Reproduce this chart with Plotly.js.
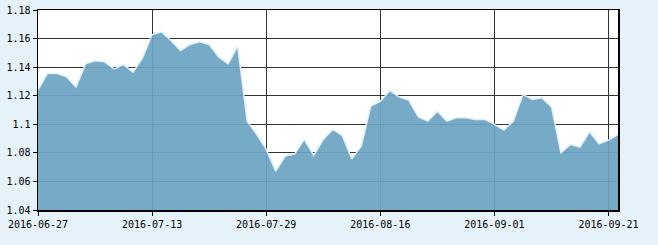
<!DOCTYPE html>
<html>
<head>
<meta charset="utf-8">
<script src="https://cdn.plot.ly/plotly-3.0.1.min.js"></script>
<style>
html,body{margin:0;padding:0;background:#e6f2fa;}
#chart{width:658px;height:245px;}
</style>
</head>
<body>
<div id="chart"></div>
<script>
var dates = [
 "2016-06-27","2016-06-28","2016-06-29","2016-06-30","2016-07-01",
 "2016-07-04","2016-07-05","2016-07-06","2016-07-07","2016-07-08",
 "2016-07-11","2016-07-12","2016-07-13","2016-07-14","2016-07-15",
 "2016-07-18","2016-07-19","2016-07-20","2016-07-21","2016-07-22",
 "2016-07-25","2016-07-26","2016-07-27","2016-07-28","2016-07-29",
 "2016-08-01","2016-08-02","2016-08-03","2016-08-04","2016-08-05",
 "2016-08-08","2016-08-09","2016-08-10","2016-08-11","2016-08-12",
 "2016-08-15","2016-08-16","2016-08-17","2016-08-18","2016-08-19",
 "2016-08-22","2016-08-23","2016-08-24","2016-08-25","2016-08-26",
 "2016-08-29","2016-08-30","2016-08-31","2016-09-01","2016-09-02",
 "2016-09-05","2016-09-06","2016-09-07","2016-09-08","2016-09-09",
 "2016-09-12","2016-09-13","2016-09-14","2016-09-19","2016-09-20",
 "2016-09-21","2016-09-22"
];
var values = [
 1.1240,1.1356,1.1356,1.1332,1.1260,
 1.1423,1.1444,1.1437,1.1388,1.1418,
 1.1365,1.1465,1.1628,1.1647,1.1585,
 1.1517,1.1559,1.1577,1.1559,1.1472,
 1.1423,1.1547,1.1022,1.0929,1.0824,
 1.0672,1.0777,1.0793,1.0894,1.0782,
 1.0894,1.0964,1.0922,1.0758,1.0847,
 1.1127,1.1160,1.1236,1.1191,1.1169,
 1.1051,1.1022,1.1092,1.1022,1.1045,
 1.1045,1.1034,1.1034,1.0999,1.0959,
 1.1022,1.1209,1.1173,1.1185,1.1122,
 1.0800,1.0859,1.0840,1.0947,1.0863,
 1.0889,1.0928
];
var xTickVals = ["2016-06-27","2016-07-13","2016-07-29","2016-08-16","2016-09-01","2016-09-21"];
var yTickVals = [1.04,1.06,1.08,1.10,1.12,1.14,1.16,1.18];
var yTickText = ["1.04","1.06","1.08","1.1","1.12","1.14","1.16","1.18"];

var trace = {
  x: dates, y: values, type: "scatter", mode: "lines",
  fill: "tozeroy",
  fillcolor: "rgba(109,164,194,0.93)",
  line: {color: "rgba(225,240,252,0.95)", width: 1.5},
  hoverinfo: "x+y"
};
var axisFont = {family: "DejaVu Sans Mono, monospace", size: 10, color: "#000"};
var layout = {
  width: 658, height: 245,
  margin: {l: 38, r: 40, t: 10, b: 35, pad: 0},
  paper_bgcolor: "#e6f2fa",
  plot_bgcolor: "#ffffff",
  showlegend: false,
  xaxis: {
    type: "category",
    range: [0, dates.length - 1],
    tickmode: "array",
    tickvals: xTickVals,
    ticktext: xTickVals,
    ticks: "outside", ticklen: 4, tickcolor: "#000", tickwidth: 1,
    showgrid: true, gridcolor: "#333333", gridwidth: 1,
    showline: true, linecolor: "#000", linewidth: 1.5, mirror: true,
    tickfont: axisFont, zeroline: false, fixedrange: true
  },
  yaxis: {
    range: [1.04, 1.18],
    tickmode: "array",
    tickvals: yTickVals,
    ticktext: yTickText,
    ticks: "outside", ticklen: 4, tickcolor: "#000", tickwidth: 1,
    showgrid: true, gridcolor: "#333333", gridwidth: 1,
    showline: true, linecolor: "#000", linewidth: 1.5, mirror: true,
    tickfont: axisFont, zeroline: false, fixedrange: true
  }
};
Plotly.newPlot("chart", [trace], layout, {displayModeBar: false, staticPlot: true});
</script>
</body>
</html>
